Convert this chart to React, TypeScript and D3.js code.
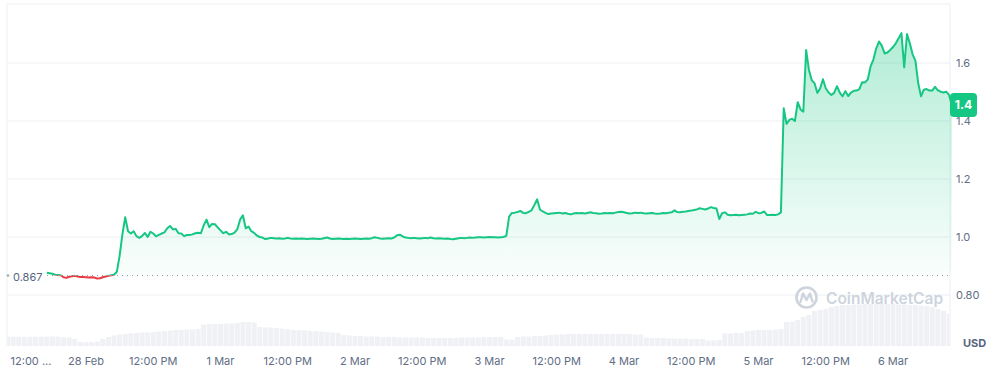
import React from "react";
import * as d3 from "d3";

// ---- data ----
const priceStart = Date.UTC(2025, 1, 27, 17, 0); // first price point
const priceStepMin = 30;
const prices: number[] = [
  0.877, 0.875, 0.873, 0.870, 0.869, 0.868, 0.861, 0.859, 0.863, 0.865,
  0.866, 0.864, 0.862, 0.862, 0.861, 0.860, 0.861, 0.860, 0.857, 0.858,
  0.861, 0.864, 0.866, 0.868, 0.870, 0.880, 0.935, 1.010, 1.068, 1.020,
  1.012, 1.020, 1.003, 0.997, 1.003, 1.014, 1.000, 1.018, 1.012, 1.002,
  1.007, 1.012, 1.016, 1.030, 1.038, 1.026, 1.028, 1.013, 1.012, 1.003,
  1.007, 1.007, 1.009, 1.013, 1.015, 1.013, 1.040, 1.060, 1.034, 1.045,
  1.044, 1.033, 1.023, 1.013, 1.018, 1.009, 1.010, 1.015, 1.027, 1.060,
  1.075, 1.030, 1.036, 1.020, 1.014, 1.005, 1.000, 0.998, 0.993, 0.995,
  0.997, 0.996, 0.995, 0.996, 0.994, 0.995, 0.997, 0.995, 0.994, 0.995,
  0.994, 0.995, 0.994, 0.993, 0.994, 0.995, 0.994, 0.993, 0.994, 0.996,
  0.998, 0.995, 0.993, 0.994, 0.995, 0.994, 0.993, 0.994, 0.993, 0.994,
  0.995, 0.994, 0.993, 0.994, 0.995, 0.994, 0.996, 0.999, 0.997, 0.995,
  0.994, 0.995, 0.996, 0.995, 0.998, 1.006, 1.008, 1.002, 0.998, 0.997,
  0.996, 0.997, 0.996, 0.995, 0.996, 0.997, 0.996, 0.998, 0.996, 0.995,
  0.996, 0.995, 0.994, 0.995, 0.993, 0.992, 0.994, 0.996, 0.997, 0.996,
  0.997, 0.998, 0.997, 0.998, 0.999, 0.999, 0.998, 0.999, 1.000, 0.999,
  0.999, 0.998, 0.999, 1.000, 1.004, 1.070, 1.083, 1.084, 1.086, 1.090,
  1.083, 1.082, 1.087, 1.092, 1.110, 1.130, 1.095, 1.088, 1.083, 1.079,
  1.081, 1.082, 1.083, 1.084, 1.081, 1.083, 1.080, 1.078, 1.081, 1.083,
  1.082, 1.083, 1.081, 1.083, 1.085, 1.083, 1.082, 1.080, 1.081, 1.083,
  1.082, 1.083, 1.082, 1.084, 1.086, 1.087, 1.085, 1.083, 1.081, 1.082,
  1.084, 1.083, 1.084, 1.082, 1.081, 1.082, 1.083, 1.081, 1.080, 1.081,
  1.083, 1.082, 1.084, 1.085, 1.092, 1.086, 1.085, 1.087, 1.088, 1.090,
  1.091, 1.093, 1.095, 1.099, 1.097, 1.095, 1.098, 1.103, 1.100, 1.098,
  1.062, 1.082, 1.085, 1.077, 1.075, 1.076, 1.077, 1.075, 1.076, 1.077,
  1.078, 1.081, 1.080, 1.087, 1.082, 1.083, 1.088, 1.076, 1.076, 1.077,
  1.076, 1.078, 1.085, 1.444, 1.390, 1.404, 1.408, 1.400, 1.465, 1.440,
  1.432, 1.645, 1.576, 1.541, 1.530, 1.497, 1.512, 1.544, 1.513, 1.498,
  1.490, 1.497, 1.520, 1.498, 1.485, 1.503, 1.486, 1.498, 1.504, 1.505,
  1.510, 1.534, 1.533, 1.543, 1.588, 1.612, 1.650, 1.674, 1.660, 1.633,
  1.636, 1.645, 1.655, 1.668, 1.685, 1.703, 1.585, 1.700, 1.668, 1.630,
  1.608, 1.530, 1.485, 1.508, 1.510, 1.505, 1.505, 1.518, 1.506, 1.501,
  1.498, 1.501, 1.490, 1.455,
];

const volumeStart = Date.UTC(2025, 1, 27, 10, 0);
const volumeStepMin = 60;
const volumes: number[] = [
  9.3, 9.3, 9.3, 9.3, 9.3, 9.3, 9.3,
  9.5, 9.5, 9.5, 8.8, 8.5, 7, 4, 3.8, 3.8, 4.5,
  7, 9, 10.5, 11.5, 12, 12.5, 13, 13.5, 13.5, 14,
  14.5, 15, 15.5, 16, 16, 16.5, 16.5, 17, 21.5, 22,
  22, 22, 22.5, 22.5, 23, 24, 24, 23.5, 19, 18.5,
  18.5, 18, 17.5, 17, 16, 16, 15.5, 15, 15, 14.5,
  14, 13.5, 13, 11, 10.5, 10, 10, 9.5, 9.5, 9.5,
  9, 9, 9, 8.5, 8.5, 8.5, 8.5, 8.5, 8, 8,
  8, 8, 8, 8, 8.5, 8.5, 8.5, 8.5, 9, 9,
  9, 9, 6.5, 6.5, 9, 9.5, 9.5, 10, 10, 10.5,
  11, 11.5, 11.5, 12, 12, 12, 12, 12, 12, 12,
  12, 12, 12, 12, 12, 11.5, 11.5, 8.5, 8, 8,
  8, 7.5, 7.5, 7.5, 7.5, 7, 7, 7, 5.5, 5.5,
  6, 12.5, 12.5, 13, 13, 15, 15.5, 16, 16, 16,
  16.5, 17, 24, 24.5, 26, 29, 31, 35, 36, 37,
  39, 40, 41, 41, 41.5, 41.5, 42, 42, 42, 42,
  42, 42, 41.5, 41.5, 41, 41, 40.5, 40, 39, 37,
  35, 32,
];

const referencePrice = 0.867;
const lastPriceLabel = "1.4";
const yTicks = [0.8, 1.0, 1.2, 1.4, 1.6];
const yTickLabels = ["0.80", "1.0", "1.2", "1.4", "1.6"];
const xTickStart = Date.UTC(2025, 1, 27, 12, 0);
const xTickStepHours = 12;
const xTickLabels = [
  "12:00 ...", "28 Feb", "12:00 PM", "1 Mar", "12:00 PM", "2 Mar", "12:00 PM",
  "3 Mar", "12:00 PM", "4 Mar", "12:00 PM", "5 Mar", "12:00 PM", "6 Mar",
];

// ---- layout ----
const W = 1006;
const H = 369;
const plotLeft = 7;
const plotRight = 950;
const plotTop = 4;
const volBottom = 346;

const GREEN = "#16c784";
const RED = "#ea3943";
const GRID = "#eceff3";
const LABEL = "#616e85";
const FONT = "Inter, 'Noto Sans', sans-serif";

export default function App() {
  const x = d3
    .scaleUtc()
    .domain([new Date(Date.UTC(2025, 1, 28, 0)), new Date(Date.UTC(2025, 2, 6, 0))])
    .range([86, 893]);
  const y = d3.scaleLinear().domain([0.8, 1.6]).range([295, 63]);
  const vMax = d3.max(volumes) as number;
  const yv = d3.scaleLinear().domain([0, vMax]).range([volBottom, 304]);

  const pts = prices.map((v, i) => ({
    t: new Date(priceStart + i * priceStepMin * 60000),
    v,
  }));
  const baseY = y(referencePrice);

  const line = d3
    .line<{ t: Date; v: number }>()
    .x((d) => x(d.t))
    .y((d) => y(d.v));
  const area = d3
    .area<{ t: Date; v: number }>()
    .x((d) => x(d.t))
    .y0(baseY)
    .y1((d) => y(d.v));

  const volBars = volumes.map((v, i) => ({
    t: new Date(volumeStart + i * volumeStepMin * 60000),
    v,
  }));
  const barStep = x(new Date(volumeStart + volumeStepMin * 60000)) - x(new Date(volumeStart));

  const xTicks = xTickLabels.map((label, i) => ({
    label,
    t: new Date(xTickStart + i * xTickStepHours * 3600000),
  }));

  const last = pts[pts.length - 1];
  const lastY = y(last.v);

  return (
    <svg
      width={W}
      height={H}
      style={{ position: "absolute", left: 0, top: 0, fontFamily: FONT }}
    >
      <defs>
        <linearGradient id="gGreen" gradientUnits="userSpaceOnUse" x1={0} x2={0} y1={y(1.7)} y2={baseY}>
          <stop offset="0" stopColor={GREEN} stopOpacity={0.33} />
          <stop offset="1" stopColor={GREEN} stopOpacity={0.02} />
        </linearGradient>
        <linearGradient id="gRed" gradientUnits="userSpaceOnUse" x1={0} x2={0} y1={baseY} y2={y(0.84)}>
          <stop offset="0" stopColor={RED} stopOpacity={0.02} />
          <stop offset="1" stopColor={RED} stopOpacity={0.12} />
        </linearGradient>
        <clipPath id="cAbove">
          <rect x={0} y={0} width={W} height={baseY} />
        </clipPath>
        <clipPath id="cBelow">
          <rect x={0} y={baseY} width={W} height={H - baseY} />
        </clipPath>
        <clipPath id="cPlot">
          <rect x={plotLeft + 0.5} y={plotTop} width={plotRight - plotLeft - 1} height={volBottom - plotTop} />
        </clipPath>
      </defs>

      {/* frame */}
      <line x1={plotLeft} x2={plotRight} y1={plotTop} y2={plotTop} stroke={GRID} />
      <line x1={plotLeft} x2={plotLeft} y1={plotTop} y2={volBottom} stroke={GRID} />
      <line x1={plotRight} x2={plotRight} y1={plotTop} y2={volBottom} stroke={GRID} />

      {/* gridlines */}
      {yTicks.map((t) => (
        <line key={t} x1={plotLeft} x2={plotRight} y1={y(t)} y2={y(t)} stroke={GRID} />
      ))}

      {/* volume */}
      <g clipPath="url(#cPlot)">
        {volBars.map((d, i) => (
          <rect
            key={i}
            x={x(d.t) - barStep / 2 + 0.3}
            width={barStep - 0.6}
            y={yv(d.v)}
            height={volBottom - yv(d.v)}
            fill="#eff1f5"
          />
        ))}
      </g>

      {/* watermark */}
      <g opacity={0.9}>
        <circle cx={806.5} cy={297.5} r={10} fill="none" stroke="#c9d0db" strokeWidth={2.6} />
        <path
          d="M800.5,302 L803,293.5 L806.5,300 L810,293.5 L812.5,301.5"
          fill="none"
          stroke="#c9d0db"
          strokeWidth={2.4}
          strokeLinejoin="round"
          strokeLinecap="round"
        />
        <text x={826} y={304} fontSize={15.5} fontWeight={600} fill="#c9d0db">
          CoinMarketCap
        </text>
      </g>

      {/* area */}
      <path d={area(pts) || ""} fill="url(#gGreen)" clipPath="url(#cAbove)" />
      <path d={area(pts) || ""} fill="url(#gRed)" clipPath="url(#cBelow)" />

      {/* baseline dotted */}
      <line
        x1={47}
        x2={plotRight}
        y1={baseY}
        y2={baseY}
        stroke="#8a94a6"
        strokeWidth={1}
        strokeDasharray="1 4"
      />
      <circle cx={8} cy={baseY} r={1.3} fill="#9fb0a6" />
      <text x={13} y={baseY + 5} fontSize={11} fill="#58667e">
        {referencePrice}
      </text>

      {/* price line */}
      <path d={line(pts) || ""} fill="none" stroke={GREEN} strokeWidth={2} strokeLinejoin="round" clipPath="url(#cAbove)" />
      <path d={line(pts) || ""} fill="none" stroke={RED} strokeWidth={2} strokeLinejoin="round" clipPath="url(#cBelow)" />

      {/* y axis labels */}
      {yTicks.map((t, i) => (
        <text key={t} x={956} y={y(t) + 4} fontSize={11} fill={LABEL}>
          {yTickLabels[i]}
        </text>
      ))}

      {/* last price box */}
      <rect x={950} y={lastY - 12} width={27} height={24} rx={4} fill={GREEN} />
      <text x={963.5} y={lastY + 4} fontSize={12} fontWeight={700} fill="#fff" textAnchor="middle">
        {lastPriceLabel}
      </text>

      {/* USD */}
      <text x={963} y={347} fontSize={11} fontWeight={700} fill="#58667e">
        USD
      </text>

      {/* x axis labels */}
      {xTicks.map((d, i) => (
        <text
          key={i}
          x={Math.max(x(d.t), plotLeft + 24)}
          y={365}
          fontSize={11}
          fill={LABEL}
          textAnchor="middle"
        >
          {d.label}
        </text>
      ))}
    </svg>
  );
}
